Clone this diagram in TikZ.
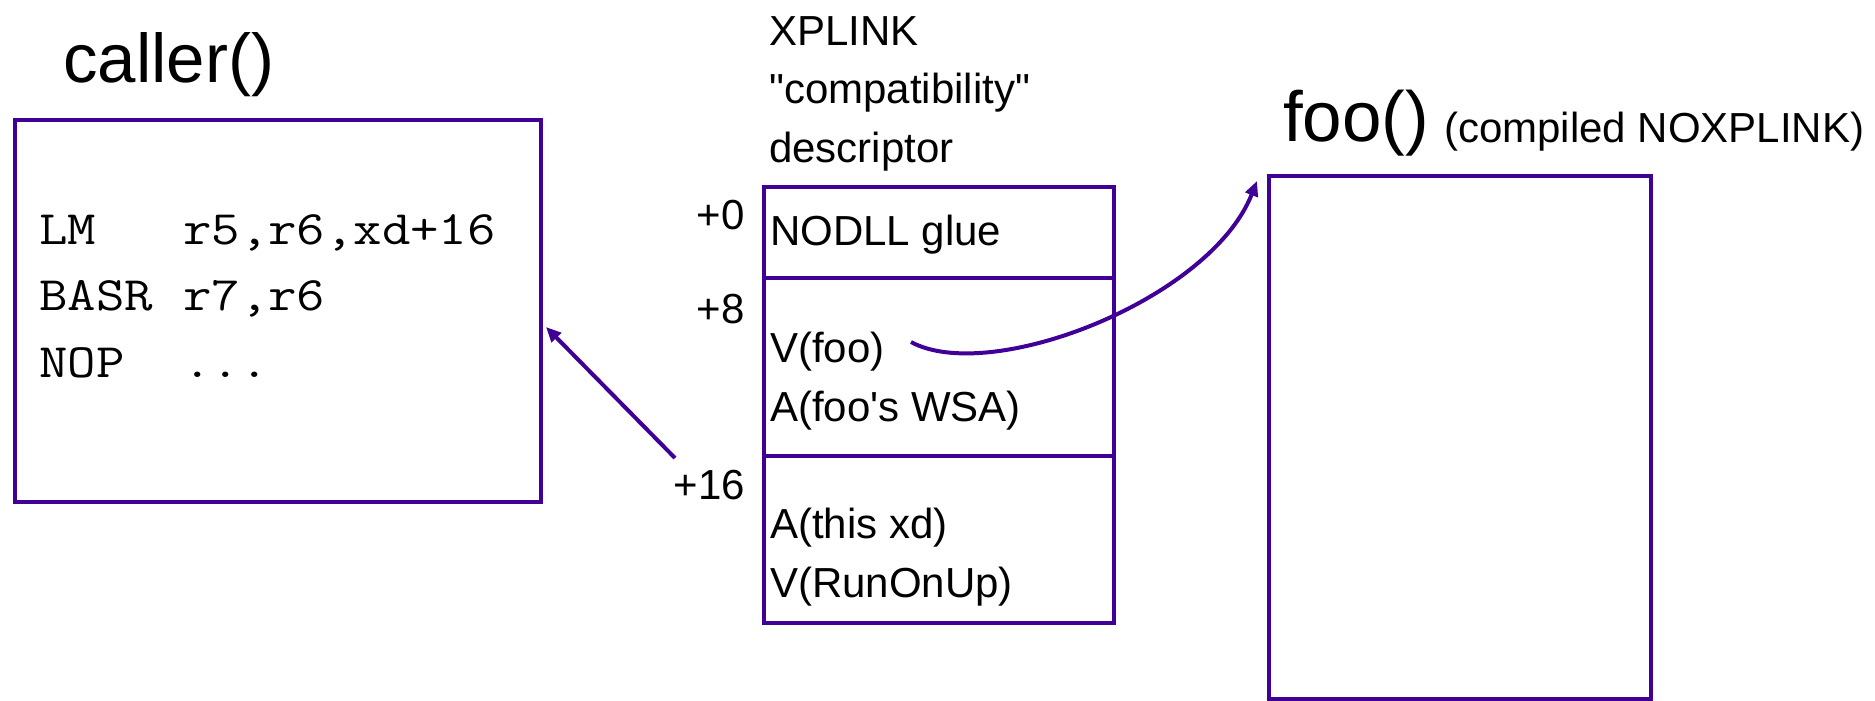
\documentclass[tikz,border=0pt]{standalone}
\usepackage{graphicx}
\usepackage{fontspec}
\setmainfont{Liberation Sans}[Ligatures=TeXOff]
\usetikzlibrary{arrows.meta}
\definecolor{boxpurple}{RGB}{64,0,152}
\newcommand\codetxt[1]{\scalebox{1.15}[1]{#1}}
\begin{document}
\begin{tikzpicture}[x=1pt,y=-1pt,
  frame/.style={draw=boxpurple,line width=4pt,inner sep=0pt,anchor=north west},
  rule/.style={draw=boxpurple,line width=4pt},
  lbl/.style={anchor=base west,inner sep=0pt,font=\fontsize{42}{50}\selectfont},
  rlbl/.style={anchor=base east,inner sep=0pt,font=\fontsize{42}{50}\selectfont},
  title/.style={anchor=base west,inner sep=0pt,font=\fontsize{69}{80}\selectfont},
  code/.style={anchor=base west,inner sep=0pt,font=\fontsize{48}{56}\selectfont\ttfamily},
  link/.style={draw=boxpurple,line width=4pt,-{Triangle[length=15pt,width=13pt]}}
]
\useasboundingbox (0,0) rectangle (1875,701);
\fill[white] (0,0) rectangle (1875,701);

% caller
\node[title] (callert) at (63,83) {caller()};
\node[frame,minimum width=526pt,minimum height=382pt] (caller) at (13,118) {};
\node[code] (c1a) at (39,244) {\codetxt{LM}};
\node[code] (c1b) at (183,244) {\codetxt{r5,r6,xd+16}};
\node[code] (c2a) at (39,310) {\codetxt{BASR}};
\node[code] (c2b) at (183,310) {\codetxt{r7,r6}};
\node[code] (c3a) at (39,377) {\codetxt{NOP}};
\node[code] (c3b) at (183,377) {\codetxt{...}};

% descriptor
\node[lbl] (h1) at (769,46) {XPLINK};
\node[lbl] (h2) at (769,103) {"compatibility"};
\node[lbl] (h3) at (769,162) {descriptor};
\node[frame,minimum width=350pt,minimum height=436pt] (desc) at (762,185) {};
\draw[rule] ([yshift=-93pt]desc.north west) -- ([yshift=-93pt,xshift=-4pt]desc.north east);
\draw[rule] ([yshift=-271pt]desc.north west) -- ([yshift=-271pt,xshift=-4pt]desc.north east);
\node[rlbl] (o0) at (745,229) {+0};
\node[rlbl] (o8) at (745,323) {+8};
\node[rlbl] (o16) at (745,499) {+16};
\node[lbl] (d1) at (770,245) {NODLL glue};
\node[lbl] (d2) at (770,362) {V(foo)};
\node[lbl] (d3) at (770,421) {A(foo's WSA)};
\node[lbl] (d4) at (770,538) {A(this xd)};
\node[lbl] (d5) at (770,597) {V(RunOnUp)};

% foo
\node[title,font=\fontsize{71}{80}\selectfont] (foot) at (1283,141) {foo()};
\node[lbl] (comp) at (1444,142) {(compiled NOXPLINK)};
\node[frame,minimum width=382pt,minimum height=523pt] (foo) at (1267,174) {};

% connectors
\coordinate (xd16) at (675,458);
\coordinate (vfoo) at (911,342);
\draw[link] (xd16) -- ([shift={(3,209)}]caller.north east);
\draw[link] (vfoo) .. controls (990,385) and (1210,300) .. ([shift={(-10,7)}]foo.north west);
\end{tikzpicture}
\end{document}
